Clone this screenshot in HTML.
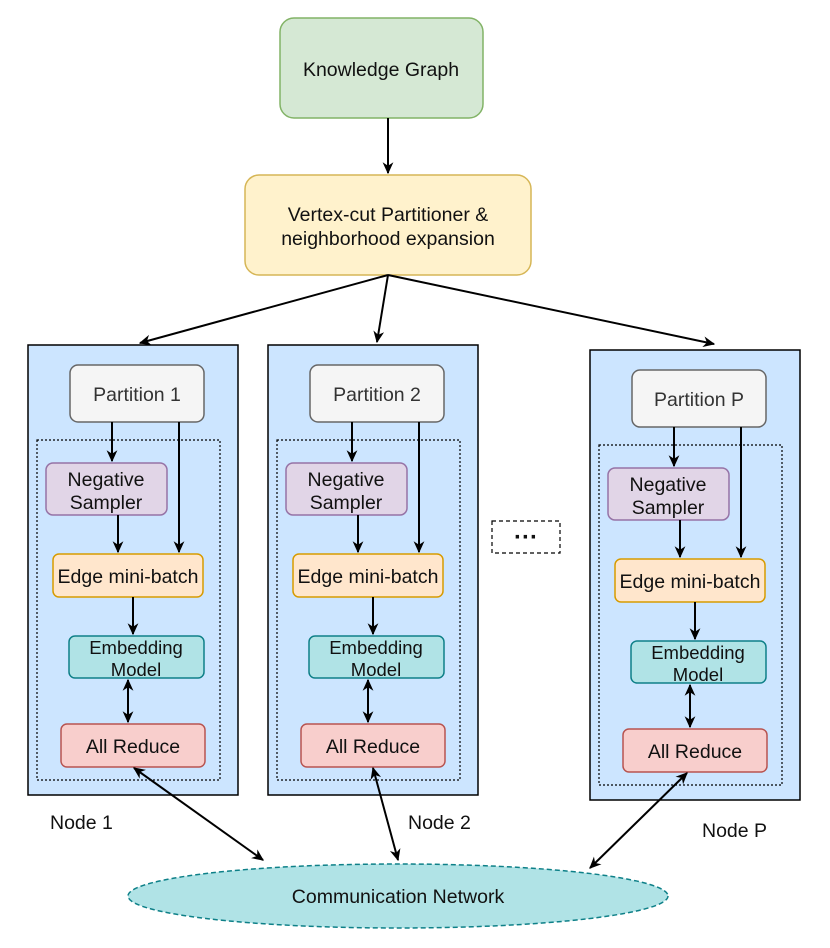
<!DOCTYPE html>
<html><head><meta charset="utf-8"><style>body{margin:0;background:#fff}svg{display:block}text{font-family:"Liberation Sans",sans-serif;font-size:19.5px;fill:#111}</style></head><body>
<svg width="830" height="948" viewBox="0 0 830 948" xmlns="http://www.w3.org/2000/svg">
<defs>
<marker id="a" viewBox="0 0 10 10" refX="9" refY="5" markerWidth="6" markerHeight="6" orient="auto-start-reverse"><path d="M0,0.5 L10,5 L0,9.5 L3,5 z" fill="#000"/></marker>
</defs>
<rect x="280" y="18" width="203" height="100" rx="14" fill="#d5e8d4" stroke="#82b366" stroke-width="1.5"/>
<text x="381" y="76" text-anchor="middle">Knowledge Graph</text>
<line x1="388" y1="118" x2="388" y2="173" stroke="#000" stroke-width="2" marker-end="url(#a)"/>
<rect x="245" y="175" width="286" height="100" rx="14" fill="#fff2cc" stroke="#d6b656" stroke-width="1.5"/>
<text x="388" y="221" text-anchor="middle">Vertex-cut Partitioner &amp;</text>
<text x="388" y="245" text-anchor="middle">neighborhood expansion</text>
<g stroke="#000" stroke-width="2" marker-end="url(#a)">
<line x1="388" y1="275" x2="140" y2="343"/>
<line x1="388" y1="275" x2="377" y2="342"/>
<line x1="388" y1="275" x2="714" y2="344"/>
</g>
<g id="n1">
<rect x="28" y="345" width="210" height="450" fill="#cce5ff" stroke="#000" stroke-width="1.5"/>
<rect x="70" y="365" width="134" height="57" rx="8" fill="#f5f5f5" stroke="#666" stroke-width="1.5"/>
<rect x="37" y="440" width="183" height="340" fill="none" stroke="#000" stroke-width="1.2" stroke-dasharray="2,2"/>
<rect x="46" y="463" width="121" height="52" rx="7" fill="#e1d5e7" stroke="#9673a6" stroke-width="1.5"/>
<text x="106" y="486" text-anchor="middle">Negative</text>
<text x="106" y="509" text-anchor="middle">Sampler</text>
<rect x="53" y="554" width="150" height="43" rx="6" fill="#ffe6cc" stroke="#d79b00" stroke-width="1.5"/>
<text x="128" y="583" text-anchor="middle">Edge mini-batch</text>
<rect x="69" y="636" width="135" height="42" rx="6" fill="#b0e3e6" stroke="#0e8088" stroke-width="1.5"/>
<text x="136" y="654" text-anchor="middle" style="font-size:18.5px">Embedding</text>
<text x="136" y="676" text-anchor="middle" style="font-size:18.5px">Model</text>
<rect x="61" y="724" width="144" height="43" rx="6" fill="#f8cecc" stroke="#b85450" stroke-width="1.5"/>
<text x="133" y="753" text-anchor="middle">All Reduce</text>
<g stroke="#000" stroke-width="2">
<line x1="112" y1="422" x2="112" y2="461" marker-end="url(#a)"/>
<line x1="179" y1="422" x2="179" y2="552" marker-end="url(#a)"/>
<line x1="118" y1="515" x2="118" y2="552" marker-end="url(#a)"/>
<line x1="133" y1="597" x2="133" y2="634" marker-end="url(#a)"/>
<line x1="128" y1="680" x2="128" y2="722" marker-start="url(#a)" marker-end="url(#a)"/>
</g>
</g>
<use href="#n1" transform="translate(240,0)"/>
<use href="#n1" transform="translate(562,5)"/>
<text x="137" y="401" text-anchor="middle" style="fill:#333">Partition 1</text>
<text x="377" y="401" text-anchor="middle" style="fill:#333">Partition 2</text>
<text x="699" y="406" text-anchor="middle" style="fill:#333">Partition P</text>
<rect x="492" y="521" width="68" height="32" fill="#fff" stroke="#000" stroke-width="1.2" stroke-dasharray="4,3"/>
<text x="526" y="545" text-anchor="middle" style="font-size:24px;font-weight:bold">···</text>
<text x="50" y="829">Node 1</text>
<text x="408" y="829">Node 2</text>
<text x="702" y="837">Node P</text>
<ellipse cx="398" cy="896" rx="270" ry="32" fill="#b0e3e6" stroke="#0e8088" stroke-width="1.5" stroke-dasharray="5,3"/>
<text x="398" y="903" text-anchor="middle">Communication Network</text>
<g stroke="#000" stroke-width="2" marker-start="url(#a)" marker-end="url(#a)">
<line x1="134" y1="768" x2="263" y2="860"/>
<line x1="373" y1="768" x2="398" y2="860"/>
<line x1="687" y1="773" x2="590" y2="868"/>
</g>
</svg>
</body></html>
